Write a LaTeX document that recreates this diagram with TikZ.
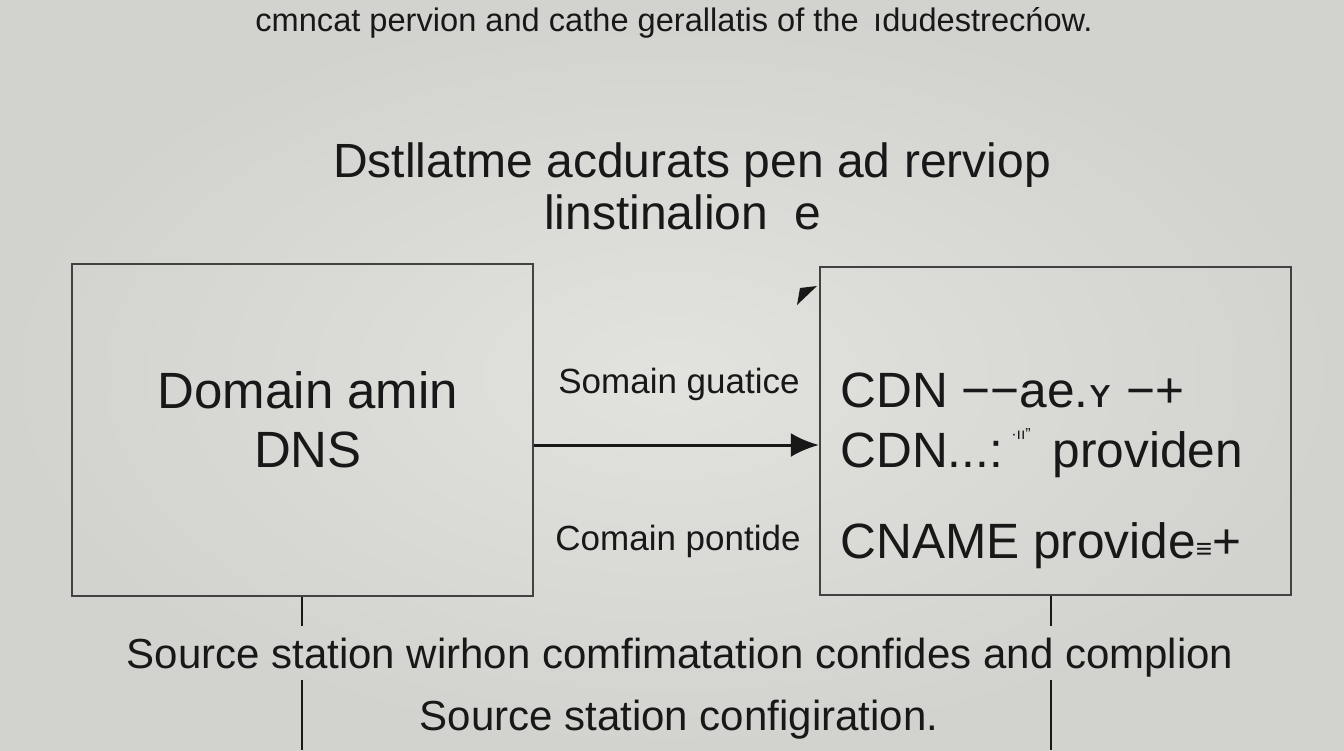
\documentclass[tikz,border=0pt]{standalone}
\usepackage{fontspec}
\setmainfont{Liberation Sans}
\newfontfamily\ipafont{DejaVu Sans}
\usetikzlibrary{arrows.meta}
\definecolor{paper}{RGB}{226,226,223}
\definecolor{paperedge}{RGB}{210,210,207}
\definecolor{ink}{RGB}{24,24,24}
\definecolor{rule}{RGB}{66,66,66}
\tikzset{panel/.style={
  rectangle,
  draw=rule,line width=1.2pt,
  inner sep=0pt}}
\tikzset{caption/.style={text=ink,inner sep=0pt,anchor=base}}
\tikzset{link/.style={draw=ink,line width=1.1pt}}
\tikzset{>={Latex[length=14pt,width=12pt]}}

\begin{document}
\begin{tikzpicture}[x=0.5pt,y=-0.5pt]
  \useasboundingbox (0,0) rectangle (1344,750);
  \shade[inner color=paper,outer color=paperedge] (0,0) rectangle (1344,750);
  % headings
  \node[caption,font=\fontsize{16.3}{18}\selectfont] (intro) at (674,31)
    {cmncat pervion and cathe gerallatis of the \,ıdudestrecńow.};
  \node[caption,font=\fontsize{24}{28}\selectfont] (title) at (692,177)
    {Dstllatme acdurats pen ad rerviop};
  \node[caption,font=\fontsize{24}{28}\selectfont] (subtitle) at (683,229)
    {linstinalion \ e};
  % boxes
  \node[panel,minimum width=230.5pt,minimum height=166pt] (dns) at (302.5,430) {};
  \node[panel,minimum width=235.5pt,minimum height=164pt] (cdn) at (1055.5,431) {};
  \node[caption,font=\fontsize{25.5}{30}\selectfont] (dnsa) at (308,408) {Domain amin};
  \node[caption,font=\fontsize{25.5}{30}\selectfont] (dnsb) at (308,467) {DNS};
  \foreach \n/\y/\l in {
      1/407/{CDN −−ae.{\ipafont\fontsize{20}{20}\selectfont ʏ} −+},
      2/467/{CDN...:\,\raisebox{0.55em}{\fontsize{8}{8}\selectfont ·ıı”}\, providen},
      3/558/{CNAME provide{\fontsize{14}{14}\selectfont ≡}+} }
    \node[caption,anchor=base west,font=\fontsize{24.8}{30}\selectfont] (cdn\n) at (840,\y) {\l};
  \fill[ink] (800,288) -- (817,286) -- (797,305) -- cycle;
  % arrow between boxes
  \node[caption,font=\fontsize{17.5}{20}\selectfont] (upper) at (679,393) {Somain guatice};
  \node[caption,font=\fontsize{17.5}{20}\selectfont] (lower) at (678,550) {Comain pontide};
  \draw[->,draw=ink,line width=1.5pt] ([yshift=-7.5pt]dns.east) -- ([yshift=-7.5pt]dns.east -| cdn.west);
  % source station lines
  \foreach \b/\x in {dns/302,cdn/1051} {
    \coordinate (\b-a) at (\x,626);
    \coordinate (\b-b) at (\x,680);
    \coordinate (\b-c) at (\x,750);
    \draw[link] (\b.south -| \b-a) -- (\b-a);
    \draw[link] (\b-b) -- (\b-c);
  }
  \node[caption,font=\fontsize{21}{24}\selectfont] (src) at (680,668)
    {Source station wirhon comfimatation confides and complion};
  \node[caption,font=\fontsize{21}{24}\selectfont] (conf) at (679,730)
    {Source station configiration.};
\end{tikzpicture}
\end{document}
